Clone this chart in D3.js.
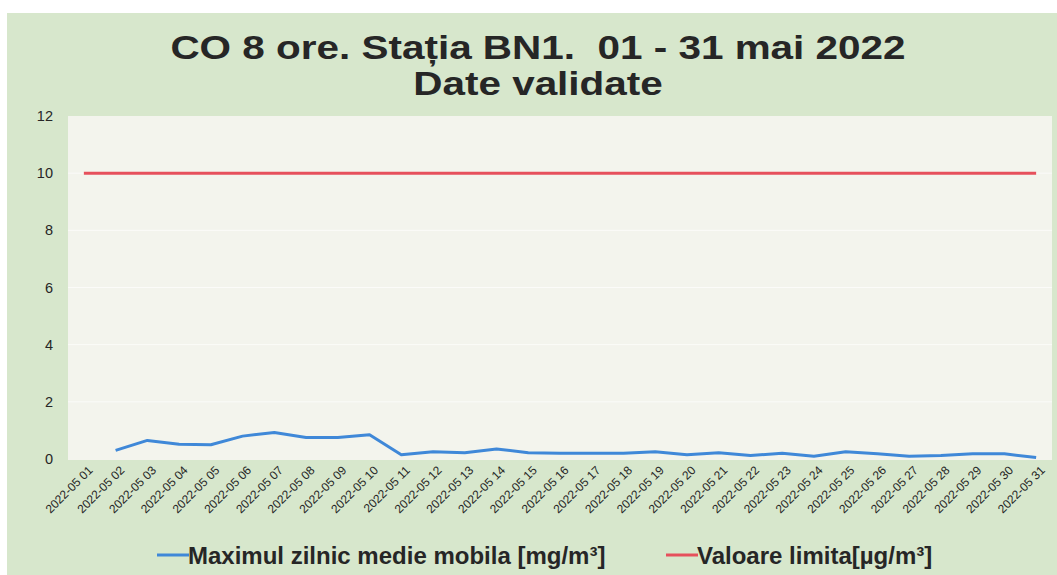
<!DOCTYPE html>
<html>
<head>
<meta charset="utf-8">
<script src="https://cdn.jsdelivr.net/npm/d3@7"></script>
<style>
  body { margin: 0; background: #ffffff; }
  svg { display: block; }
</style>
</head>
<body>
<svg id="chart" width="1057" height="575"></svg>
<script>
// zilele lunii mai 2022
var days = ["01","02","03","04","05","06","07","08","09","10","11","12","13","14","15","16",
            "17","18","19","20","21","22","23","24","25","26","27","28","29","30","31"];
var dayLabels = days.map(function(d){ return "2022-05 " + d; });
// maximul zilnic medie mobila [mg/m3], 01 lipseste
var coMax = [null,0.3,0.65,0.52,0.5,0.8,0.93,0.75,0.75,0.85,0.15,0.25,0.22,0.35,0.22,0.2,
             0.2,0.2,0.25,0.15,0.22,0.12,0.2,0.1,0.25,0.18,0.1,0.12,0.18,0.18,0.05];
var limitValue = [10,10,10,10,10,10,10,10,10,10,10,10,10,10,10,10,
                  10,10,10,10,10,10,10,10,10,10,10,10,10,10,10];
var yTicks = [0,2,4,6,8,10,12];
var titleLines = ["CO 8 ore. Stația BN1.  01 - 31 mai 2022", "Date validate"];
var legendNames = ["Maximul zilnic medie mobila [mg/m³]", "Valoare limita[µg/m³]"];

var palette = {
  chartbg: "#d7e7cc",
  plotbg: "#f3f4ed",
  blue: "#3f88d8",
  red: "#e6505c",
  text: "#262626"
};

var svg = d3.select("#chart");

// fundal
svg.append("rect")
   .attr("x", 7).attr("y", 13)
   .attr("width", 1050).attr("height", 562)
   .attr("fill", palette.chartbg);

var plot = {left: 68, right: 1052, top: 116, bottom: 460};

svg.append("rect")
   .attr("x", plot.left).attr("y", plot.top)
   .attr("width", plot.right - plot.left).attr("height", plot.bottom - plot.top)
   .attr("fill", palette.plotbg);

var x = d3.scalePoint()
   .domain(dayLabels)
   .range([plot.left, plot.right])
   .padding(0.5);

var y = d3.scaleLinear()
   .domain([0, 12])
   .range([plot.bottom - 1, plot.top]);

// linii de grila abia vizibile
svg.append("g")
   .selectAll("line")
   .data(yTicks.slice(1, -1))
   .join("line")
   .attr("x1", plot.left).attr("x2", plot.right)
   .attr("y1", function(d){ return y(d); })
   .attr("y2", function(d){ return y(d); })
   .attr("stroke", "#ffffff")
   .attr("stroke-width", 1)
   .attr("opacity", 0.7);

// axa y
var yAxis = svg.append("g")
   .attr("transform", "translate(53,0)")
   .call(d3.axisLeft(y).tickValues(yTicks).tickSize(0).tickPadding(0));
yAxis.select(".domain").remove();
yAxis.selectAll("text")
   .attr("font-family", "Liberation Sans, Arial, sans-serif")
   .attr("font-size", "14.5px")
   .attr("fill", palette.text);

// axa x
var xAxis = svg.append("g")
   .attr("transform", "translate(0," + plot.bottom + ")")
   .call(d3.axisBottom(x).tickSize(0).tickPadding(0));
xAxis.select(".domain").remove();
xAxis.selectAll("text")
   .attr("font-family", "Liberation Sans, Arial, sans-serif")
   .attr("font-size", "12px")
   .attr("fill", palette.text)
   .attr("text-anchor", "end")
   .attr("dy", "0")
   .attr("transform", "translate(9,11) rotate(-45)");

// serii
var line = d3.line()
   .defined(function(d){ return d.v !== null; })
   .x(function(d){ return x(d.k); })
   .y(function(d){ return y(d.v); });

svg.append("path")
   .datum(dayLabels.map(function(k, i){ return {k: k, v: limitValue[i]}; }))
   .attr("d", line)
   .attr("fill", "none")
   .attr("stroke", palette.red)
   .attr("stroke-width", 3);

svg.append("path")
   .datum(dayLabels.map(function(k, i){ return {k: k, v: coMax[i]}; }))
   .attr("d", line)
   .attr("fill", "none")
   .attr("stroke", palette.blue)
   .attr("stroke-width", 3)
   .attr("stroke-linejoin", "round");

// titlu (un singur text, doua randuri, usor latit ca in original)
var title = svg.append("text")
   .attr("transform", "translate(538,0) scale(1.19,1)")
   .attr("text-anchor", "middle")
   .attr("font-family", "Liberation Sans, Arial, sans-serif")
   .attr("font-weight", "bold")
   .attr("font-size", "34px")
   .attr("fill", palette.text)
   .style("white-space", "pre");
title.selectAll("tspan")
   .data(titleLines)
   .join("tspan")
   .attr("x", 0)
   .attr("y", function(d, i){ return 59 + i * 36; })
   .text(function(d){ return d; });

// legenda
var legendColors = [palette.blue, palette.red];
var legendX = [157, 666];
var leg = svg.append("g")
   .selectAll("g")
   .data(legendNames)
   .join("g")
   .attr("transform", function(d, i){ return "translate(" + legendX[i] + ",556)"; });
leg.append("line")
   .attr("x1", 0).attr("x2", 32)
   .attr("y1", -1).attr("y2", -1)
   .attr("stroke", function(d, i){ return legendColors[i]; })
   .attr("stroke-width", 3);
leg.append("text")
   .attr("x", 31)
   .attr("y", 8)
   .attr("font-family", "Liberation Sans, Arial, sans-serif")
   .attr("font-weight", "bold")
   .attr("font-size", "24px")
   .attr("fill", palette.text)
   .text(function(d){ return d; });
</script>
</body>
</html>
